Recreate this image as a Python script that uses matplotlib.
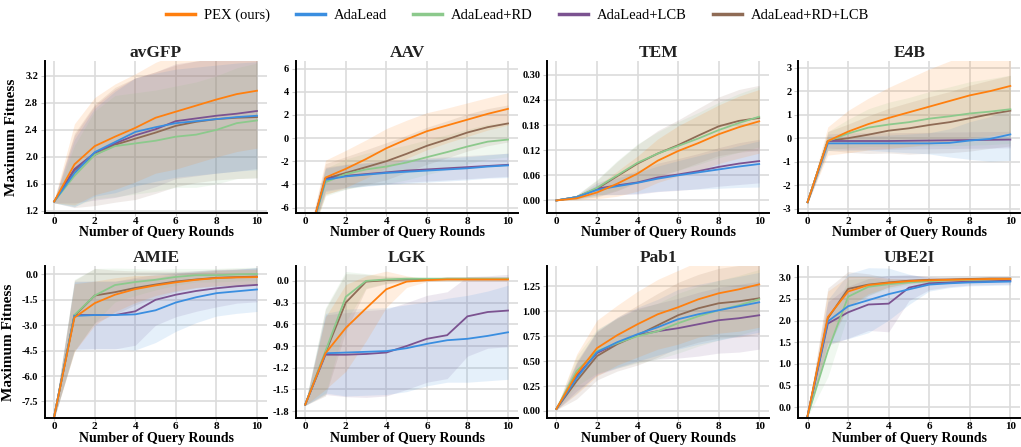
import matplotlib.pyplot as plt
from matplotlib.ticker import MultipleLocator, FormatStrFormatter

plt.rcParams["font.family"] = ["Liberation Serif", "DejaVu Serif"]

ROUNDS = list(range(11))
METHODS = ["PEX (ours)", "AdaLead", "AdaLead+RD", "AdaLead+LCB", "AdaLead+RD+LCB"]
COLORS = ["#ff7f0e", "#3a8ee0", "#8cc98c", "#7b5290", "#8f6b55"]

# mean curves per task, one list per method (same order as METHODS)
AVGFP_MEAN = [
    [1.34, 1.89, 2.16, 2.30, 2.43, 2.58, 2.67, 2.76, 2.85, 2.93, 2.98],
    [1.34, 1.76, 2.07, 2.22, 2.37, 2.44, 2.50, 2.53, 2.56, 2.59, 2.61],
    [1.34, 1.72, 2.03, 2.16, 2.20, 2.24, 2.30, 2.33, 2.40, 2.50, 2.54],
    [1.34, 1.82, 2.06, 2.20, 2.32, 2.41, 2.53, 2.57, 2.61, 2.64, 2.68],
    [1.34, 1.80, 2.03, 2.18, 2.27, 2.36, 2.46, 2.52, 2.56, 2.58, 2.59],
]
AVGFP_STD = [
    [0.02, 0.60, 0.72, 0.78, 0.80, 0.82, 0.85, 0.85, 0.85, 0.85, 0.85],
    [0.02, 0.50, 0.65, 0.75, 0.80, 0.80, 0.80, 0.80, 0.80, 0.80, 0.80],
    [0.02, 0.45, 0.65, 0.75, 0.75, 0.75, 0.75, 0.78, 0.80, 0.82, 0.85],
    [0.02, 0.50, 0.70, 0.80, 0.85, 0.85, 0.85, 0.85, 0.85, 0.85, 0.85],
    [0.02, 0.55, 0.75, 0.85, 0.90, 0.90, 0.90, 0.90, 0.90, 0.90, 0.90],
]

AAV_MEAN = [
    [-9.8, -3.4, -2.65, -1.8, -0.87, -0.1, 0.6, 1.1, 1.6, 2.1, 2.53],
    [-9.8, -3.6, -3.3, -3.15, -3.0, -2.9, -2.8, -2.7, -2.6, -2.45, -2.35],
    [-9.8, -3.8, -3.1, -2.7, -2.45, -2.1, -1.64, -1.2, -0.72, -0.3, -0.12],
    [-9.8, -3.5, -3.25, -3.1, -2.95, -2.8, -2.7, -2.6, -2.5, -2.4, -2.3],
    [-9.8, -3.5, -3.0, -2.5, -1.99, -1.35, -0.66, -0.1, 0.49, 0.95, 1.27],
]
AAV_STD = [
    [0.2, 1.5, 1.6, 1.65, 1.7, 1.65, 1.6, 1.5, 1.45, 1.4, 1.4],
    [0.2, 1.0, 1.0, 1.0, 1.0, 1.0, 1.0, 1.0, 1.0, 1.0, 1.05],
    [0.2, 1.2, 1.3, 1.4, 1.5, 1.5, 1.5, 1.5, 1.5, 1.5, 1.5],
    [0.2, 1.0, 1.0, 1.0, 1.0, 1.0, 1.0, 1.0, 1.0, 1.0, 1.0],
    [0.2, 1.3, 1.4, 1.5, 1.6, 1.6, 1.6, 1.6, 1.6, 1.6, 1.6],
]

TEM_MEAN = [
    [0.0, 0.005, 0.019, 0.040, 0.064, 0.095, 0.118, 0.137, 0.158, 0.175, 0.189],
    [0.0, 0.008, 0.025, 0.034, 0.042, 0.052, 0.060, 0.067, 0.074, 0.081, 0.087],
    [0.0, 0.008, 0.030, 0.060, 0.090, 0.112, 0.130, 0.148, 0.168, 0.185, 0.200],
    [0.0, 0.008, 0.028, 0.036, 0.043, 0.055, 0.062, 0.070, 0.080, 0.088, 0.094],
    [0.0, 0.008, 0.028, 0.058, 0.088, 0.112, 0.132, 0.155, 0.177, 0.190, 0.197],
]
TEM_STD = [
    [0.0, 0.004, 0.015, 0.030, 0.042, 0.052, 0.060, 0.066, 0.070, 0.074, 0.076],
    [0.0, 0.004, 0.012, 0.020, 0.025, 0.030, 0.035, 0.040, 0.045, 0.050, 0.055],
    [0.0, 0.005, 0.020, 0.035, 0.045, 0.052, 0.058, 0.062, 0.066, 0.070, 0.072],
    [0.0, 0.004, 0.014, 0.022, 0.028, 0.034, 0.038, 0.042, 0.046, 0.050, 0.052],
    [0.0, 0.005, 0.020, 0.035, 0.045, 0.055, 0.060, 0.065, 0.070, 0.075, 0.078],
]

E4B_MEAN = [
    [-2.72, -0.12, 0.28, 0.60, 0.86, 1.10, 1.34, 1.58, 1.82, 2.00, 2.22],
    [-2.72, -0.22, -0.22, -0.22, -0.22, -0.22, -0.22, -0.20, -0.10, -0.03, 0.16],
    [-2.72, -0.12, 0.20, 0.45, 0.58, 0.68, 0.83, 0.93, 1.05, 1.13, 1.23],
    [-2.72, -0.12, -0.12, -0.12, -0.12, -0.11, -0.10, -0.09, -0.08, -0.07, -0.06],
    [-2.72, -0.12, 0.00, 0.15, 0.32, 0.42, 0.56, 0.68, 0.85, 1.02, 1.17],
]
E4B_STD = [
    [0.05, 0.60, 0.90, 1.10, 1.30, 1.45, 1.60, 1.70, 1.80, 1.90, 2.00],
    [0.05, 0.30, 0.30, 0.30, 0.35, 0.40, 0.45, 0.60, 0.80, 0.95, 1.10],
    [0.05, 0.40, 0.60, 0.80, 0.95, 1.05, 1.15, 1.25, 1.35, 1.40, 1.45],
    [0.05, 0.30, 0.35, 0.35, 0.35, 0.35, 0.35, 0.35, 0.35, 0.35, 0.35],
    [0.05, 0.40, 0.60, 0.80, 0.95, 1.10, 1.20, 1.30, 1.40, 1.45, 1.50],
]

AMIE_MEAN = [
    [-8.4, -2.55, -1.70, -1.20, -0.87, -0.65, -0.47, -0.32, -0.22, -0.18, -0.16],
    [-8.4, -2.45, -2.40, -2.40, -2.36, -2.12, -1.66, -1.35, -1.11, -1.00, -0.89],
    [-8.4, -2.40, -1.25, -0.63, -0.45, -0.32, -0.15, -0.05, -0.05, 0.00, 0.02],
    [-8.4, -2.40, -2.40, -2.40, -2.18, -1.50, -1.20, -0.98, -0.82, -0.70, -0.62],
    [-8.4, -2.45, -1.25, -1.05, -0.80, -0.60, -0.42, -0.30, -0.20, -0.16, -0.13],
]
AMIE_STD = [
    [0.1, 2.0, 1.3, 1.0, 0.8, 0.6, 0.5, 0.45, 0.45, 0.45, 0.45],
    [0.1, 2.0, 2.0, 2.0, 2.1, 1.9, 1.7, 1.5, 1.35, 1.3, 1.3],
    [0.1, 2.1, 1.6, 1.0, 0.8, 0.6, 0.5, 0.4, 0.4, 0.4, 0.4],
    [0.1, 2.0, 2.0, 2.0, 2.0, 1.5, 1.3, 1.2, 1.1, 1.0, 1.0],
    [0.1, 2.1, 1.6, 1.3, 1.0, 0.8, 0.6, 0.5, 0.5, 0.5, 0.5],
]

LGK_MEAN = [
    [-1.71, -1.00, -0.65, -0.38, -0.115, -0.01, 0.01, 0.02, 0.02, 0.02, 0.02],
    [-1.71, -1.00, -0.99, -0.98, -0.97, -0.93, -0.87, -0.82, -0.80, -0.76, -0.71],
    [-1.71, -0.97, -0.22, 0.00, 0.02, 0.03, 0.03, 0.03, 0.03, 0.03, 0.03],
    [-1.71, -1.02, -1.02, -1.01, -0.99, -0.90, -0.80, -0.75, -0.49, -0.43, -0.41],
    [-1.71, -0.99, -0.30, -0.01, 0.01, 0.02, 0.02, 0.03, 0.03, 0.03, 0.03],
]
LGK_STD = [
    [0.01, 0.50, 0.60, 0.45, 0.25, 0.08, 0.02, 0.02, 0.02, 0.02, 0.02],
    [0.01, 0.55, 0.60, 0.60, 0.60, 0.60, 0.58, 0.58, 0.60, 0.62, 0.65],
    [0.01, 0.60, 0.35, 0.10, 0.05, 0.03, 0.02, 0.02, 0.02, 0.02, 0.02],
    [0.01, 0.55, 0.58, 0.60, 0.60, 0.60, 0.60, 0.60, 0.55, 0.50, 0.50],
    [0.01, 0.60, 0.40, 0.10, 0.05, 0.03, 0.02, 0.02, 0.02, 0.02, 0.02],
]

PAB1_MEAN = [
    [0.02, 0.37, 0.63, 0.76, 0.87, 0.97, 1.04, 1.12, 1.18, 1.22, 1.27],
    [0.02, 0.33, 0.59, 0.69, 0.77, 0.84, 0.92, 0.97, 1.01, 1.05, 1.09],
    [0.02, 0.40, 0.60, 0.68, 0.75, 0.80, 0.88, 0.95, 1.01, 1.06, 1.12],
    [0.02, 0.35, 0.58, 0.68, 0.76, 0.80, 0.83, 0.87, 0.91, 0.93, 0.96],
    [0.02, 0.30, 0.55, 0.67, 0.76, 0.86, 0.96, 1.03, 1.08, 1.10, 1.13],
]
PAB1_STD = [
    [0.01, 0.20, 0.28, 0.30, 0.33, 0.35, 0.37, 0.38, 0.40, 0.42, 0.43],
    [0.01, 0.15, 0.22, 0.25, 0.27, 0.28, 0.30, 0.30, 0.30, 0.30, 0.30],
    [0.01, 0.15, 0.22, 0.25, 0.27, 0.28, 0.30, 0.30, 0.30, 0.30, 0.30],
    [0.01, 0.15, 0.22, 0.25, 0.27, 0.28, 0.30, 0.32, 0.33, 0.34, 0.34],
    [0.01, 0.18, 0.24, 0.27, 0.30, 0.32, 0.33, 0.34, 0.35, 0.36, 0.36],
]

UBE2I_MEAN = [
    [-0.21, 2.08, 2.67, 2.82, 2.87, 2.91, 2.93, 2.94, 2.95, 2.96, 2.96],
    [-0.21, 1.98, 2.33, 2.47, 2.61, 2.72, 2.83, 2.86, 2.88, 2.89, 2.90],
    [-0.21, 1.30, 2.55, 2.78, 2.84, 2.88, 2.91, 2.93, 2.94, 2.95, 2.96],
    [-0.21, 1.93, 2.19, 2.37, 2.39, 2.76, 2.86, 2.88, 2.90, 2.91, 2.92],
    [-0.21, 2.05, 2.73, 2.83, 2.88, 2.92, 2.94, 2.95, 2.96, 2.97, 2.97],
]
UBE2I_STD = [
    [0.02, 0.60, 0.35, 0.20, 0.10, 0.05, 0.05, 0.04, 0.04, 0.04, 0.04],
    [0.02, 0.50, 0.75, 0.75, 0.60, 0.35, 0.15, 0.10, 0.08, 0.08, 0.08],
    [0.02, 0.60, 0.40, 0.20, 0.10, 0.06, 0.05, 0.04, 0.04, 0.04, 0.04],
    [0.02, 0.50, 0.60, 0.60, 0.65, 0.30, 0.15, 0.10, 0.08, 0.08, 0.08],
    [0.02, 0.70, 0.40, 0.25, 0.10, 0.06, 0.05, 0.04, 0.04, 0.04, 0.04],
]

TASKS = ["avGFP", "AAV", "TEM", "E4B", "AMIE", "LGK", "Pab1", "UBE2I"]
MEANS = [AVGFP_MEAN, AAV_MEAN, TEM_MEAN, E4B_MEAN, AMIE_MEAN, LGK_MEAN, PAB1_MEAN, UBE2I_MEAN]
STDS = [AVGFP_STD, AAV_STD, TEM_STD, E4B_STD, AMIE_STD, LGK_STD, PAB1_STD, UBE2I_STD]
YLIMS = [(1.17, 3.42), (-6.46, 6.66), (-0.03, 0.333), (-3.18, 3.28),
         (-8.5, 0.47), (-1.9, 0.2), (-0.075, 1.45), (-0.26, 3.25)]
YSTEPS = [0.4, 2, 0.06, 1, 1.5, 0.3, 0.25, 0.5]
YFMTS = ["%.1f", "%d", "%.2f", "%d", "%.1f", "%.1f", "%.2f", "%.1f"]


def draw_panel(ax, title, means, stds, ylim, step, fmt):
    # bands first, then lines; PEX drawn last so it sits on top
    order = [4, 3, 2, 1, 0]
    for i in order:
        lo = [m - s for m, s in zip(means[i], stds[i])]
        hi = [m + s for m, s in zip(means[i], stds[i])]
        ax.fill_between(ROUNDS, lo, hi, color=COLORS[i], alpha=0.13, lw=0)
    for i in order:
        ax.plot(ROUNDS, means[i], color=COLORS[i], lw=1.3, label=METHODS[i])
    ax.set_xlim(-0.45, 10.5)
    ax.set_ylim(*ylim)
    ax.xaxis.set_major_locator(MultipleLocator(2))
    ax.yaxis.set_major_locator(MultipleLocator(step))
    ax.yaxis.set_major_formatter(FormatStrFormatter(fmt))
    ax.grid(True, color="#dcdcdc", lw=1.2)
    ax.set_axisbelow(True)
    for side in ("top", "right"):
        ax.spines[side].set_visible(False)
    for side in ("left", "bottom"):
        ax.spines[side].set_color("black")
        ax.spines[side].set_linewidth(1.4)
    ax.tick_params(axis="y", length=3, color="#cccccc", labelsize=7.5, pad=2)
    ax.tick_params(axis="x", length=2, color="#cccccc", labelsize=8, pad=0.7)
    for lab in ax.get_xticklabels() + ax.get_yticklabels():
        lab.set_fontweight("bold")
    ax.set_title(title, fontsize=12.5, fontweight="bold", color="#222222", pad=2.5)
    ax.set_xlabel("Number of Query Rounds", fontsize=10, fontweight="bold", labelpad=0.3)


def main() -> None:
    fig = plt.figure(figsize=(10.21, 4.47), dpi=100)
    lefts = [0.0441, 0.290, 0.536, 0.782]
    bottoms = [0.5235, 0.0640]
    for k, task in enumerate(TASKS):
        r, c = divmod(k, 4)
        ax = fig.add_axes([lefts[c], bottoms[r], 0.2175, 0.340])
        draw_panel(ax, task, MEANS[k], STDS[k], YLIMS[k], YSTEPS[k], YFMTS[k])
        if c == 0:
            ax.set_ylabel("Maximum Fitness", fontsize=11, fontweight="bold", labelpad=5)

    handles = [plt.Line2D([], [], color=col, lw=2.5) for col in COLORS]
    fig.legend(handles, METHODS, loc="upper center", bbox_to_anchor=(0.507, 1.01),
               ncol=5, frameon=False, fontsize=10.5, handlelength=2.0,
               handletextpad=0.6, columnspacing=1.8)
    fig.savefig("out.png", dpi=100)


if __name__ == "__main__":
    main()
